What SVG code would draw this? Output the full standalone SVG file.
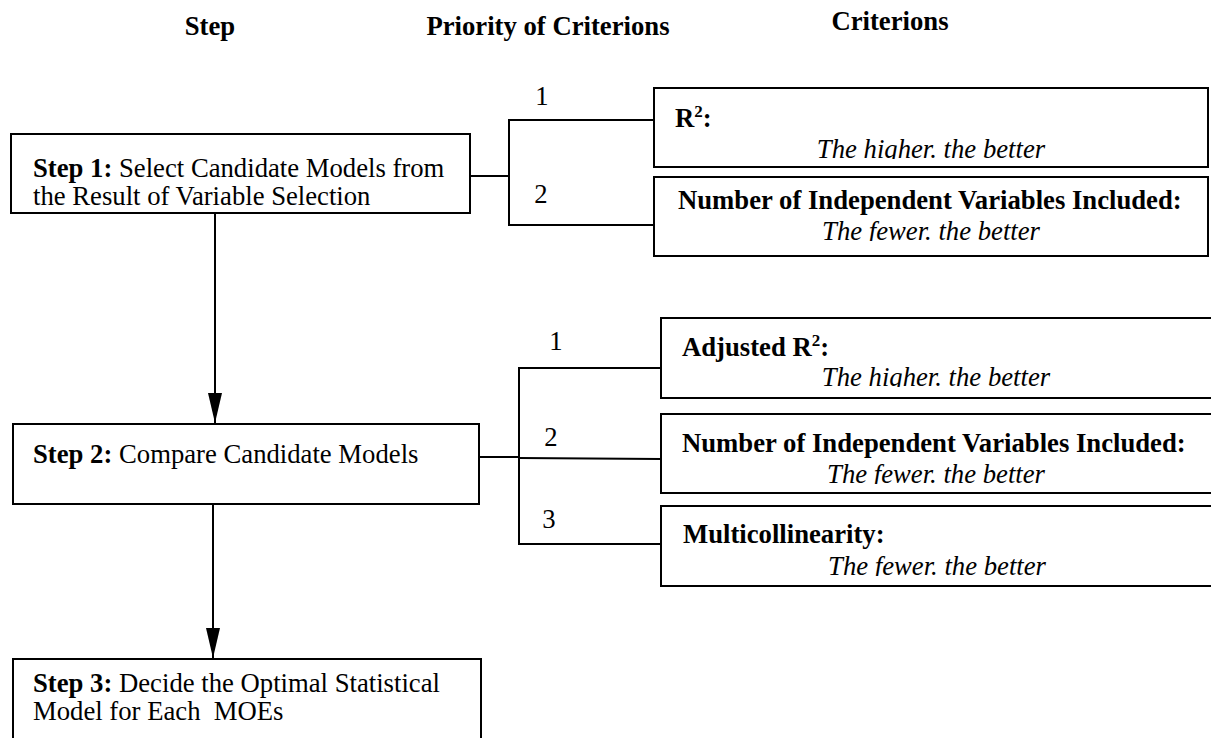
<svg xmlns="http://www.w3.org/2000/svg" width="1211" height="738" viewBox="0 0 1211 738">
  <style>
    .t { font-family: "Liberation Serif", "Times New Roman", serif; font-size: 26.7px; fill: #000; }
    .b { font-weight: bold; }
    .i { font-style: italic; }
    .c { text-anchor: middle; }
    .box { fill: #fff; stroke: #000; stroke-width: 2; }
    .ln { fill: none; stroke: #000; stroke-width: 2; }
  </style>
  <defs>
    <marker id="arrow" viewBox="0 0 30 14" refX="30" refY="7" markerWidth="30" markerHeight="14" markerUnits="userSpaceOnUse" orient="auto">
      <path d="M0,0 L30,7 L0,14 z" fill="#000"/>
    </marker>
    <!-- the italic rating lines are cut off at their baseline -->
    <clipPath id="clipA"><rect x="654" y="88" width="554" height="71"/></clipPath>
    <clipPath id="clipB"><rect x="654" y="177" width="554" height="64"/></clipPath>
    <clipPath id="clipC"><rect x="661" y="318" width="560" height="69"/></clipPath>
    <clipPath id="clipD"><rect x="661" y="414" width="560" height="70"/></clipPath>
    <clipPath id="clipE"><rect x="661" y="506" width="560" height="70"/></clipPath>
  </defs>

  <!-- column headings -->
  <g id="headings" class="t b">
    <text x="210" y="35" class="c">Step</text>
    <text x="548" y="35" class="c">Priority of Criterions</text>
    <text x="890" y="30" class="c">Criterions</text>
  </g>

  <!-- connectors -->
  <g id="connectors">
    <line class="ln" x1="470" y1="176" x2="509" y2="176"/>
    <path class="ln" d="M654,120 H509 V225 H654"/>
    <line class="ln" x1="479" y1="457" x2="519" y2="457"/>
    <line class="ln" x1="519" y1="458" x2="661" y2="459" stroke="#333"/>
    <path class="ln" d="M661,368 H519 V544 H661"/>
    <line class="ln" x1="215" y1="213" x2="215" y2="423" marker-end="url(#arrow)"/>
    <line class="ln" x1="213" y1="504" x2="213" y2="658" marker-end="url(#arrow)"/>
  </g>

  <!-- priority numbers -->
  <g id="priorities" class="t c">
    <text x="542" y="105">1</text>
    <text x="541" y="203">2</text>
    <text x="556" y="350">1</text>
    <text x="551" y="446">2</text>
    <text x="549" y="528">3</text>
  </g>

  <!-- steps -->
  <g id="step1">
    <rect class="box" x="11" y="134" width="459" height="79"/>
    <text class="t" x="33" y="177"><tspan class="b">Step 1:</tspan> Select Candidate Models from</text>
    <text class="t" x="33" y="205">the Result of Variable Selection</text>
  </g>
  <g id="step2">
    <rect class="box" x="13" y="424" width="466" height="80"/>
    <text class="t" x="33" y="463"><tspan class="b">Step 2:</tspan> Compare Candidate Models</text>
  </g>
  <g id="step3">
    <rect class="box" x="13" y="659" width="468" height="100"/>
    <text class="t" x="33" y="692"><tspan class="b">Step 3:</tspan> Decide the Optimal Statistical</text>
    <text class="t" x="33" y="720" xml:space="preserve">Model for Each  MOEs</text>
  </g>

  <!-- criteria of step 1 -->
  <g id="crit-r2">
    <rect class="box" x="654" y="88" width="554" height="79"/>
    <text class="t b" x="675" y="127">R<tspan font-size="17" dy="-10">2</tspan><tspan dy="10">:</tspan></text>
    <text class="t i c" x="931" y="158" clip-path="url(#clipA)">The higher. the better</text>
  </g>
  <g id="crit-vars-1">
    <rect class="box" x="654" y="177" width="554" height="79"/>
    <text class="t b" x="678" y="209">Number of Independent Variables Included:</text>
    <text class="t i c" x="931" y="240" clip-path="url(#clipB)">The fewer. the better</text>
  </g>

  <!-- criteria of step 2 -->
  <g id="crit-adj-r2">
    <rect class="box" x="661" y="318" width="560" height="80"/>
    <text class="t b" x="682" y="356">Adjusted R<tspan font-size="17" dy="-10">2</tspan><tspan dy="10">:</tspan></text>
    <text class="t i c" x="936" y="386" clip-path="url(#clipC)">The higher. the better</text>
  </g>
  <g id="crit-vars-2">
    <rect class="box" x="661" y="414" width="560" height="79"/>
    <text class="t b" x="682" y="452">Number of Independent Variables Included:</text>
    <text class="t i c" x="936" y="483" clip-path="url(#clipD)">The fewer. the better</text>
  </g>
  <g id="crit-multi">
    <rect class="box" x="661" y="506" width="560" height="80"/>
    <text class="t b" x="683" y="543">Multicollinearity:</text>
    <text class="t i c" x="937" y="575" clip-path="url(#clipE)">The fewer. the better</text>
  </g>
</svg>
